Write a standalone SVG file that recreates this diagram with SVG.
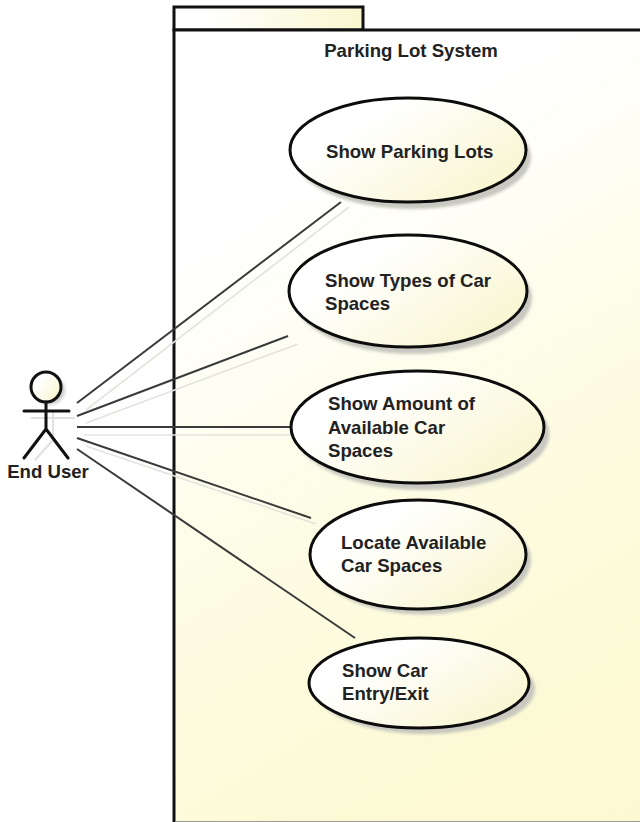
<svg xmlns="http://www.w3.org/2000/svg" width="640" height="822" viewBox="0 0 640 822">
<defs>
<linearGradient id="pkg" gradientUnits="userSpaceOnUse" x1="174" y1="30" x2="640" y2="822"><stop offset="0.22" stop-color="#ffffff"/><stop offset="0.55" stop-color="#fdfce4"/><stop offset="0.8" stop-color="#fcfad6"/><stop offset="1" stop-color="#fcf9d2"/></linearGradient>
<linearGradient id="tab" x1="0" y1="0" x2="1" y2="0"><stop offset="0.15" stop-color="#ffffff"/><stop offset="1" stop-color="#f9f7cf"/></linearGradient>
<linearGradient id="uc" x1="0" y1="0.15" x2="1" y2="0.85"><stop offset="0.25" stop-color="#ffffff"/><stop offset="1" stop-color="#f8f5cc"/></linearGradient>
<filter id="blur" x="-10%" y="-10%" width="120%" height="120%"><feGaussianBlur stdDeviation="1.5"/></filter>
</defs>
<style>
text{font-family:"Liberation Sans",Arial,sans-serif;font-size:18.6px;font-weight:bold;fill:#222}
.u{fill:url(#uc);stroke:#0c0c0c;stroke-width:3}
.s{fill:#c8c8c0;filter:url(#blur)}
.c{stroke:#3a3a3a;stroke-width:2;fill:none}
.g{stroke:#e4e4de;stroke-width:1.7;fill:none}
.a{stroke:#111;stroke-width:3;fill:none;stroke-linecap:round}
</style>
<rect width="640" height="822" fill="#fff"/>
<g id="package">
<rect x="174" y="7" width="189" height="23" fill="url(#tab)" stroke="#111" stroke-width="3"/>
<rect x="174" y="30" width="480" height="800" fill="url(#pkg)" stroke="#111" stroke-width="3"/>
<path d="M176 821.500H640" stroke="#9a9a94" stroke-width="1" fill="none"/>
<text x="411" y="57" text-anchor="middle">Parking Lot System</text>
</g>
<g id="connectors">
<path class="g" d="M86 410L349 207M86 423L298 344M84 435L298 435M86 446L316 524"/>
<path class="c" d="M77 403L341 202M77 416L288 336M77 427L290 427M77 438L311 518M77 449L355 638"/>
</g>
<g id="actor">
<circle cx="50" cy="390" r="15" fill="#cfcfcf" filter="url(#blur)"/>
<path d="M53 412V440M31 418H75M53 440L35 460M53 440L70 460" stroke="#e0e0e0" stroke-width="2" fill="none"/>
<circle cx="46" cy="387" r="15" fill="url(#uc)" stroke="#111" stroke-width="3"/>
<path class="a" d="M46 402V429M24 411H69M46 429L24 458M46 429L68 458"/>
<text x="48" y="478" text-anchor="middle">End User</text>
</g>
<g id="uc1">
<ellipse class="s" cx="413" cy="157" rx="118" ry="52"/>
<ellipse class="u" cx="408" cy="150" rx="118" ry="52"/>
<text x="326" y="158">Show Parking Lots</text>
</g>
<g id="uc2">
<ellipse class="s" cx="413" cy="298" rx="119" ry="56"/>
<ellipse class="u" cx="408" cy="291" rx="119" ry="56"/>
<text x="325" y="287">Show Types of Car</text>
<text x="325" y="310">Spaces</text>
</g>
<g id="uc3">
<ellipse class="s" cx="423" cy="434" rx="126.500" ry="56"/>
<ellipse class="u" cx="417.500" cy="427" rx="126.500" ry="56"/>
<text x="328" y="410">Show Amount of</text>
<text x="328" y="434">Available Car</text>
<text x="328" y="457">Spaces</text>
</g>
<g id="uc4">
<ellipse class="s" cx="423" cy="560" rx="108" ry="54.500"/>
<ellipse class="u" cx="418" cy="554.500" rx="108" ry="54.500"/>
<text x="341" y="549">Locate Available</text>
<text x="341" y="572">Car Spaces</text>
</g>
<g id="uc5">
<ellipse class="s" cx="425" cy="689" rx="110" ry="45"/>
<ellipse class="u" cx="419" cy="683" rx="110" ry="45"/>
<text x="342" y="677">Show Car</text>
<text x="342" y="700">Entry/Exit</text>
</g>
</svg>
